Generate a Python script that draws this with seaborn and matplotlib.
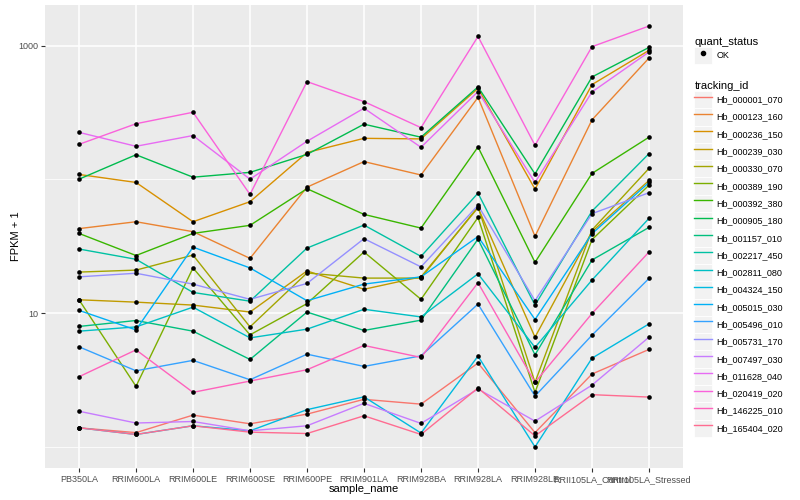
import matplotlib
matplotlib.use("Agg")
import matplotlib.pyplot as plt
from matplotlib.lines import Line2D
from matplotlib.patches import Rectangle
from matplotlib.legend_handler import HandlerLine2D
from matplotlib.ticker import NullFormatter
import seaborn as sns
import pandas as pd
import numpy as np

samples = ["PB350LA", "RRIM600LA", "RRIM600LE", "RRIM600SE", "RRIM600PE", "RRIM901LA",
           "RRIM928BA", "RRIM928LA", "RRIM928LE", "RRII105LA_Control", "RRII105LA_Stressed"]

tracking_ids = ["Hb_000001_070", "Hb_000123_160", "Hb_000236_150", "Hb_000239_030",
                "Hb_000330_070", "Hb_000389_190", "Hb_000392_380", "Hb_000905_180",
                "Hb_001157_010", "Hb_002217_450", "Hb_002811_080", "Hb_004324_150",
                "Hb_005015_030", "Hb_005496_010", "Hb_005731_170", "Hb_007497_030",
                "Hb_011628_040", "Hb_020419_020", "Hb_146225_010", "Hb_165404_020"]

# ggplot hue palette for 20 levels
colors = ["#F8766D", "#EA8331", "#D89000", "#C09B00", "#A3A500", "#7CAE00", "#39B600",
          "#00BB4E", "#00BF7D", "#00C1A3", "#00BFC4", "#00BAE0", "#00B0F6", "#35A2FF",
          "#9590FF", "#C77CFF", "#E76BF3", "#FA62DB", "#FF62BC", "#FF6C91"]

# FPKM + 1, one list per gene, same order as samples
hb_000001_070 = [1.39, 1.28, 1.73, 1.49, 1.76, 2.27, 2.09, 4.24, 1.28, 3.51, 5.36]
hb_000123_160 = [42.9, 48.3, 40.7, 25.7, 87.6, 136, 108, 411, 37.6, 279, 809]
hb_000236_150 = [109, 95, 48.3, 68.2, 159, 203, 201, 480, 84.7, 512, 923]
hb_000239_030 = [12.6, 12.1, 11.5, 10.2, 20.7, 15.1, 18.7, 61.5, 6.62, 40.7, 98.3]
hb_000330_070 = [20.3, 21.0, 27.2, 7.9, 20.0, 18.3, 18.3, 62.5, 3.04, 41.9, 121]
hb_000389_190 = [12.6, 2.84, 21.8, 6.89, 11.8, 28.7, 12.7, 52.0, 2.56, 35.5, 90.6]
hb_000392_380 = [39.5, 27.0, 39.5, 45.4, 85.3, 54.8, 43.3, 175, 24.0, 111, 207]
hb_000905_180 = [100.5, 153, 104, 113, 154, 259, 207, 492, 110, 584, 971]
hb_001157_010 = [7.96, 8.82, 7.34, 4.51, 10.2, 7.43, 8.87, 35.8, 4.89, 25.0, 43.8]
hb_002217_450 = [30.2, 25.3, 14.3, 12.3, 30.7, 45.6, 26.6, 79.0, 11.5, 58.0, 156]
hb_002811_080 = [7.34, 7.9, 11.1, 6.54, 7.6, 10.7, 9.38, 19.7, 5.55, 17.7, 51.2]
hb_004324_150 = [1.39, 1.24, 1.44, 1.32, 1.90, 2.37, 1.27, 4.78, 1.0, 4.61, 8.32]
hb_005015_030 = [10.5, 7.5, 31.2, 21.8, 12.4, 16.5, 18.7, 37.4, 8.97, 39.3, 95]
hb_005496_010 = [5.61, 3.71, 4.44, 3.18, 4.94, 4.0, 4.8, 11.7, 2.4, 6.85, 18.2]
hb_005731_170 = [18.7, 19.9, 16.5, 12.7, 16.7, 36.1, 22.2, 64.0, 12.4, 55.5, 79.6]
hb_007497_030 = [1.85, 1.51, 1.55, 1.32, 1.44, 2.12, 1.50, 2.71, 1.56, 2.90, 6.62]
hb_011628_040 = [225, 177, 213, 100.5, 193, 341, 174, 454, 95, 451, 897]
hb_020419_020 = [183, 261, 318, 77.3, 539, 382, 244, 1173, 180, 984, 1403]
hb_146225_010 = [3.35, 5.32, 2.56, 3.11, 3.78, 5.74, 4.67, 16.9, 3.04, 9.95, 28.7]
hb_165404_020 = [1.39, 1.24, 1.44, 1.29, 1.26, 1.71, 1.24, 2.76, 1.21, 2.46, 2.36]

series = [hb_000001_070, hb_000123_160, hb_000236_150, hb_000239_030, hb_000330_070,
          hb_000389_190, hb_000392_380, hb_000905_180, hb_001157_010, hb_002217_450,
          hb_002811_080, hb_004324_150, hb_005015_030, hb_005496_010, hb_005731_170,
          hb_007497_030, hb_011628_040, hb_020419_020, hb_146225_010, hb_165404_020]

rows = []
for tid, vals in zip(tracking_ids, series):
    for s, v in zip(samples, vals):
        rows.append((tid, s, v))
df = pd.DataFrame(rows, columns=["tracking_id", "sample_name", "fpkm"])
df["quant_status"] = "OK"

plt.rcParams["font.family"] = ["Liberation Sans", "DejaVu Sans"]

fig, ax = plt.subplots(figsize=(8, 5), dpi=100)
fig.subplots_adjust(left=0.056, right=0.854, top=0.99, bottom=0.064)
ax.set_facecolor("#EBEBEB")

palette = dict(zip(tracking_ids, colors))
sns.lineplot(data=df, x="sample_name", y="fpkm", hue="tracking_id", palette=palette,
             estimator=None, sort=False, lw=1, legend=False, ax=ax)
sns.scatterplot(data=df, x="sample_name", y="fpkm", color="black", s=11,
                linewidth=0, legend=False, ax=ax, zorder=3)

ax.set_yscale("log")
lo, hi = np.log10(df["fpkm"].min()), np.log10(df["fpkm"].max())
pad = 0.05 * (hi - lo)
ax.set_ylim(10 ** (lo - pad), 10 ** (hi + pad))
ax.set_xlim(-0.6, len(samples) - 0.4)

ax.set_yticks([10, 1000])
ax.set_yticklabels(["10", "1000"])
ax.set_yticks([1, 100], minor=True)
ax.yaxis.set_minor_formatter(NullFormatter())
ax.tick_params(axis="y", which="minor", length=0)
ax.tick_params(which="major", length=3, width=0.8, color="#333333",
               labelsize=6.5, labelcolor="#4D4D4D", pad=2)

ax.set_axisbelow(True)
ax.grid(which="major", color="white", lw=1.1)
ax.grid(which="minor", axis="y", color="white", lw=0.55)
for sp in ax.spines.values():
    sp.set_visible(False)

ax.set_xlabel("sample_name", fontsize=8, labelpad=0)
ax.set_ylabel("FPKM + 1", fontsize=8, labelpad=-2)


# grey key background like ggplot legends
class KeyHandler(HandlerLine2D):
    def create_artists(self, legend, orig_handle, xdescent, ydescent, width, height, fontsize, trans):
        bg = Rectangle((-xdescent, -ydescent), width, height, facecolor="#F2F2F2",
                       edgecolor="white", lw=0.6, transform=trans)
        arts = super().create_artists(legend, orig_handle, xdescent, ydescent,
                                      width, height, fontsize, trans)
        return [bg] + arts


common = dict(loc="upper left", frameon=False, fontsize=6.5, title_fontsize=8,
              handlelength=1.9, handleheight=2.57, handletextpad=0.55, borderpad=0,
              borderaxespad=0, alignment="left", numpoints=1, labelspacing=0.0,
              handler_map={Line2D: KeyHandler()})

ok_handle = [Line2D([], [], marker="o", ls="none", color="black", markersize=3)]
fig.legend(handles=ok_handle, labels=["OK"], title="quant_status",
           bbox_to_anchor=(0.868, 0.926), **common)

id_handles = [Line2D([], [], color=c, lw=1) for c in colors]
fig.legend(handles=id_handles, labels=tracking_ids, title="tracking_id",
           bbox_to_anchor=(0.868, 0.838), **common)

fig.savefig("out.png", dpi=100)
